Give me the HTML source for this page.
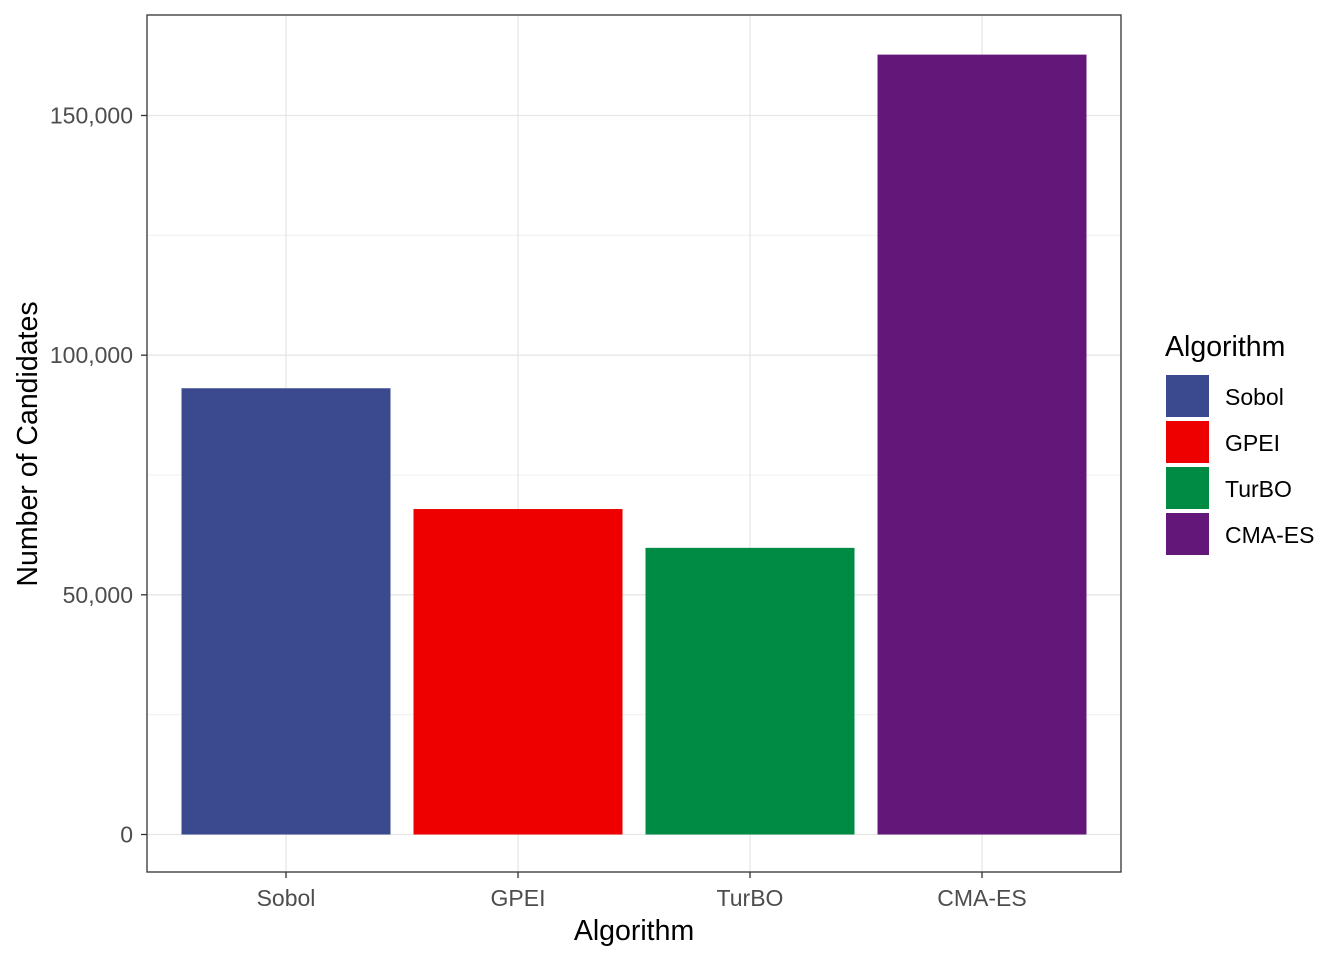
<!DOCTYPE html>
<html><head><meta charset="utf-8"><style>
html,body{margin:0;padding:0;background:#fff;}
svg{display:block;font-family:"Liberation Sans",Arial,sans-serif;}
</style></head><body>
<svg id="chart" width="1344" height="960" xmlns="http://www.w3.org/2000/svg"></svg>
<script>
const categories = ["Sobol","GPEI","TurBO","CMA-ES"];
const values = [93100, 67900, 59800, 162700];
const colors = ["#3B4A8F","#EE0000","#008B45","#631879"];
const yTicks = [0, 50000, 100000, 150000];
const yTickLabels = ["0","50,000","100,000","150,000"];
const yMinor = [25000, 75000, 125000];

const svg = document.getElementById('chart');
const NS = "http://www.w3.org/2000/svg";
const L=147, R=1121, T=15, B=872;
const y0=834.5, pxPer=719/150000;
function yScale(v){return y0 - v*pxPer;}
const step=232, x1=286;
function xScale(i){return x1 + i*step;}
const bw=209;
function mk(tag, attrs, text){
  const e=document.createElementNS(NS,tag);
  for(const k in attrs) e.setAttribute(k, attrs[k]);
  if(text!==undefined) e.textContent=text;
  svg.appendChild(e); return e;
}
let e;
e=mk('rect',{x:L,y:T,width:R-L,height:B-T,fill:'#fff'});


yMinor.forEach(v=>{
  e=mk('line',{x1:L,x2:R,y1:yScale(v),y2:yScale(v),stroke:'#f0f0f0','stroke-width':1});
  
  
});
yTicks.forEach(v=>{
  e=mk('line',{x1:L,x2:R,y1:yScale(v),y2:yScale(v),stroke:'#e6e6e6','stroke-width':1.3});
  
  
});
categories.forEach((c,i)=>{
  e=mk('line',{x1:xScale(i),x2:xScale(i),y1:T,y2:B,stroke:'#e6e6e6','stroke-width':1.3});
  
  
});
categories.forEach((c,i)=>{
  e=mk('rect',{x:xScale(i)-bw/2,y:yScale(values[i]),width:bw,height:y0-yScale(values[i]),fill:colors[i]});
  
  
});
e=mk('rect',{x:L,y:T,width:R-L,height:B-T,fill:'none',stroke:'#333','stroke-width':1.3});


yTicks.forEach((v,i)=>{
  e=mk('line',{x1:L-6,x2:L,y1:yScale(v),y2:yScale(v),stroke:'#333','stroke-width':1.3});
  
  
  e=mk('text',{x:L-14,y:yScale(v)+8,'text-anchor':'end','font-size':'23',fill:'#4d4d4d'},yTickLabels[i]);
  
  
});
categories.forEach((c,i)=>{
  e=mk('line',{x1:xScale(i),x2:xScale(i),y1:B,y2:B+6,stroke:'#333','stroke-width':1.3});
  
  
  e=mk('text',{x:xScale(i),y:906,'text-anchor':'middle','font-size':'23',fill:'#4d4d4d'},c);
  
  
});
e=mk('text',{x:634,y:940,'text-anchor':'middle','font-size':'28.5',fill:'#000'},'Algorithm');


e=mk('text',{x:0,y:0,'text-anchor':'middle','font-size':'28.5',fill:'#000',transform:'translate(37,444) rotate(-90)'},'Number of Candidates');


e=mk('text',{x:1165,y:356,'font-size':'28.5',fill:'#000'},'Algorithm');


categories.forEach((c,i)=>{
  const yy=375+i*46;
  e=mk('rect',{x:1166,y:yy,width:43,height:42,fill:colors[i]});
  
  
  e=mk('text',{x:1225,y:yy+30,'font-size':'23',fill:'#000'},c);
  
  
});
</script>
</body></html>
